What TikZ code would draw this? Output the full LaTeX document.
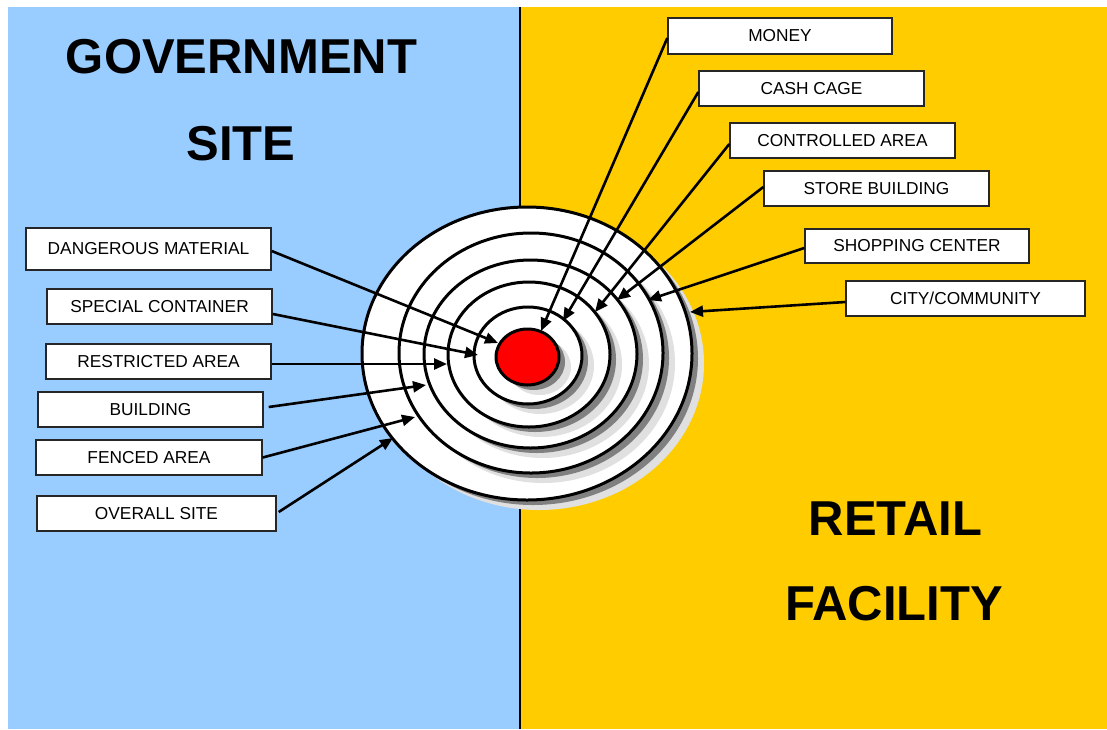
\documentclass[tikz,border=0pt]{standalone}
\usepackage{fontspec}
\setmainfont{Liberation Sans}
\usetikzlibrary{arrows.meta}
\definecolor{govblue}{HTML}{99CCFF}
\definecolor{retyellow}{HTML}{FFCC00}
\definecolor{shadowdark}{HTML}{808080}
\definecolor{shadowlight}{HTML}{E0E0E0}
\tikzset{
  lbl/.style={draw=black!85, line width=1.4pt, fill=white, inner sep=0pt,
    minimum height=35pt, font=\fontsize{17.3}{20}\selectfont},
  ttl/.style={anchor=base, inner sep=0pt, font=\fontsize{49}{55}\selectfont\bfseries},
  arr/.style={line width=2.6pt, -{Triangle[length=13pt,width=11pt]}},
  ring/.style={draw=black, line width=3pt, fill=white},
}
\newcommand{\ringsh}[4]{%
  \fill[shadowlight] (#1+12,#2+10) ellipse [x radius=#3 pt, y radius=#4 pt];
  \fill[shadowdark] (#1+6,#2+5) ellipse [x radius=#3 pt, y radius=#4 pt];
  \draw[ring] (#1,#2) ellipse [x radius=#3 pt, y radius=#4 pt];
}
\begin{document}
\begin{tikzpicture}[x=1pt,y=-1pt]
\useasboundingbox (0,0) rectangle (1107,729);
\fill[white] (0,0) rectangle (1107,729);
\fill[govblue] (8,7) rectangle (520,729);
\fill[retyellow] (520,7) rectangle (1107,729);
\draw[line width=1.5pt] (520,7) -- (520,729);

% titles
\node[ttl] (t1) at (241.5,73) {GOVERNMENT};
\node[ttl] (t2) at (241,160) {SITE};
\node[ttl] (t3) at (895.5,535) {RETAIL};
\node[ttl] (t4) at (894,620) {FACILITY};

% target rings
\ringsh{527}{353.5}{165}{146.5}
\ringsh{531}{353}{132}{120}
\ringsh{530.5}{354}{106.5}{94}
\ringsh{529}{354.5}{81}{72.5}
\ringsh{528}{355.5}{54}{48.5}
\fill[shadowlight] (527.5+12,357+10) ellipse [x radius=31.5pt, y radius=28pt];
\fill[shadowdark] (527.5+6,357+5) ellipse [x radius=31.5pt, y radius=28pt];
\draw[line width=3pt, fill=red] (527.5,357) ellipse [x radius=31.5pt, y radius=28pt];

% left labels
\node[lbl, minimum width=245pt, minimum height=42pt] (dang) at (148.5,249) {DANGEROUS MATERIAL};
\node[lbl, minimum width=225pt] (spec) at (159.5,306.5) {SPECIAL CONTAINER};
\node[lbl, minimum width=225pt] (rest) at (158.5,361.5) {RESTRICTED AREA};
\node[lbl, minimum width=225pt] (bldg) at (150.5,409.5) {BUILDING};
\node[lbl, minimum width=226pt] (fenc) at (149,457.5) {FENCED AREA};
\node[lbl, minimum width=239pt] (over) at (156.5,513.5) {OVERALL SITE};

% right labels
\node[lbl, minimum width=224pt, minimum height=36pt] (money) at (780,36) {MONEY};
\node[lbl, minimum width=225pt] (cash) at (811.5,88.5) {CASH CAGE};
\node[lbl, minimum width=225pt] (ctrl) at (842.5,140.5) {CONTROLLED AREA};
\node[lbl, minimum width=225pt] (store) at (876.5,188.5) {STORE BUILDING};
\node[lbl, minimum width=224pt, minimum height=34pt] (shop) at (917,246) {SHOPPING CENTER};
\node[lbl, minimum width=239pt] (city) at (965.5,298.5) {CITY/COMMUNITY};

% arrow targets
\coordinate (eDang) at (498,343);
\coordinate (eSpec) at (478,355);
\coordinate (eRest) at (447,364);
\coordinate (eBldg) at (426,385);
\coordinate (eFenc) at (415,417);
\coordinate (eOver) at (393,438);
\coordinate (eMoney) at (541,331);
\coordinate (eCash) at (563,321);
\coordinate (eCtrl) at (595,312);
\coordinate (eStore) at (617,300);
\coordinate (eShop) at (648,300);
\coordinate (eCity) at (690,312);

% arrows
\draw[arr] ([yshift=-2pt]dang.east) -- (eDang);
\draw[arr] ([yshift=-7.5pt]spec.east) -- (eSpec);
\draw[arr] ([yshift=-2.5pt]rest.east) -- (eRest);
\draw[arr] ([xshift=5pt,yshift=2.5pt]bldg.east) -- (eBldg);
\draw[arr] (fenc.east) -- (eFenc);
\draw[arr] ([xshift=2pt,yshift=1.5pt]over.east) -- (eOver);
\draw[arr] ([yshift=-2pt]money.west) -- (eMoney);
\draw[arr] ([yshift=-3.5pt]cash.west) -- (eCash);
\draw[arr] ([yshift=-3.5pt]ctrl.west) -- (eCtrl);
\draw[arr] ([yshift=1.5pt]store.west) -- (eStore);
\draw[arr] ([yshift=-2pt]shop.west) -- (eShop);
\draw[arr] ([yshift=-3.5pt]city.west) -- (eCity);
\end{tikzpicture}
\end{document}
